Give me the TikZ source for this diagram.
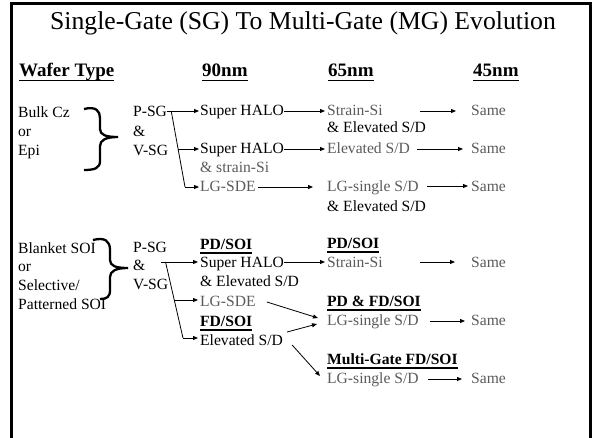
\documentclass[tikz,border=0pt]{standalone}
\usepackage{fontspec}
\setmainfont{Liberation Serif}
\usetikzlibrary{arrows.meta,calc}
\definecolor{gtxt}{RGB}{90,90,90}
\newsavebox\ulbox
\newcommand\ulx[3]{\sbox\ulbox{#3}\rlap{\rule[-#1]{\wd\ulbox}{#2}}\usebox\ulbox}
\begin{document}
\begin{tikzpicture}[x=1pt,y=-1pt,
 txt/.style={anchor=base west,inner sep=0pt,font=\fontsize{15.6}{18}\selectfont},
 gt/.style={txt,text=gtxt},
 bt/.style={anchor=base west,inner sep=0pt,font=\fontsize{15.6}{18}\bfseries\selectfont},
 hdr/.style={anchor=base west,inner sep=0pt,font=\fontsize{19}{22}\bfseries\selectfont},
 arr/.style={line width=0.8pt,-{Triangle[length=5pt,width=4pt]}},
 ln/.style={line width=0.8pt},
 brace/.style={line width=2.3pt}]
\useasboundingbox (0,0) rectangle (595,438);
\draw[line width=3pt] (11,438) -- (11,3.5) -- (590,3.5) -- (590,438);
\node[anchor=base,inner sep=0pt,font=\fontsize{25.7}{30}\selectfont] (title) at (303,30) {Single-Gate (SG) To Multi-Gate (MG) Evolution};
\node[hdr] (hw) at (19,77) {\ulx{4.5pt}{1.5pt}{Wafer Type}};
\node[hdr] (h90) at (202,77) {\ulx{4.5pt}{1.5pt}{90nm}};
\node[hdr] (h65) at (328,77) {\ulx{4.5pt}{1.5pt}{65nm}};
\node[hdr] (h45) at (473,77) {\ulx{4.5pt}{1.5pt}{45nm}};
% group 1
\node[txt] (bulk) at (18,118) {Bulk Cz};
\node[txt] (or1) at (18,137) {or};
\node[txt] (epi) at (18,156) {Epi};
\node[txt] (psg1) at (133,117) {P-SG};
\node[txt] (amp1) at (133,137) {\&};
\node[txt] (vsg1) at (133,156) {V-SG};
\node[txt] (sh1) at (200,116) {Super HALO};
\node[txt] (sh2) at (200,154) {Super HALO};
\node[gt] (ssi) at (200,173) {\& strain-Si};
\node[gt] (lgsde1) at (200,192) {LG-SDE};
\node[gt] (strain1) at (327,116) {Strain-Si};
\node[txt] (elev1) at (327,133) {\& Elevated S/D};
\node[gt] (elev2) at (327,154) {Elevated S/D};
\node[gt] (lgs1) at (327,192) {LG-single S/D};
\node[txt] (elev3) at (327,212) {\& Elevated S/D};
\node[gt] (same1) at (471,116) {Same};
\node[gt] (same2) at (471,154) {Same};
\node[gt] (same3) at (471,192) {Same};
% group 2
\node[txt] (blanket) at (18,254) {Blanket SOI};
\node[txt] (or2) at (18,272) {or};
\node[txt] (sel) at (18,291) {Selective/};
\node[txt] (pat) at (18,310) {Patterned SOI};
\node[txt] (psg2) at (133,253) {P-SG};
\node[txt] (amp2) at (133,271) {\&};
\node[txt] (vsg2) at (133,290) {V-SG};
\node[bt] (pd1) at (200,250) {\ulx{3.6pt}{1.3pt}{PD/SOI}};
\node[txt] (sh3) at (200,268) {Super HALO};
\node[txt] (elev4) at (200,287) {\& Elevated S/D};
\node[gt] (lgsde2) at (200,307) {LG-SDE};
\node[bt] (fd) at (200,327) {\ulx{3.6pt}{1.3pt}{FD/SOI}};
\node[txt] (elev5) at (200,346) {Elevated S/D};
\node[bt] (pd2) at (327,249) {\ulx{3.6pt}{1.3pt}{PD/SOI}};
\node[gt] (strain2) at (327,268) {Strain-Si};
\node[bt] (pdfd) at (327,307) {\ulx{3.6pt}{1.3pt}{PD \& FD/SOI}};
\node[gt] (lgs2) at (327,326) {LG-single S/D};
\node[bt] (mg) at (327,365) {\ulx{3.6pt}{1.3pt}{Multi-Gate FD/SOI}};
\node[gt] (lgs3) at (327,384) {LG-single S/D};
\node[gt] (same4) at (471,268) {Same};
\node[gt] (same5) at (471,326) {Same};
\node[gt] (same6) at (471,384) {Same};
% braces
\draw[brace] (84,109) .. controls (96,106) and (100,111) .. (100,118) -- (100,129) .. controls (100,135) and (106,137) .. (118,137) .. controls (106,137) and (100,140) .. (100,146) -- (100,161) .. controls (100,168) and (95,170) .. (84,170);
\draw[brace] (93,240) .. controls (105,237) and (110,241) .. (110,250) -- (110,260) .. controls (110,266) and (116,268) .. (128,268) .. controls (116,268) and (110,271) .. (110,277) -- (110,290) .. controls (110,297) and (107,299) .. (100,299);
% group 1 connectors
\coordinate (d1a) at ([xshift=4pt,yshift=6pt]psg1.base east);
\coordinate (d1b) at ([xshift=-15pt,yshift=5pt]lgsde1.base west);
\draw[arr] ([yshift=6pt]psg1.base east) -- ([xshift=-1pt,yshift=5pt]sh1.base west);
\draw[ln] (d1a) -- (d1b);
\draw[arr] (d1b) -- ([xshift=-1pt,yshift=5pt]lgsde1.base west);
\draw[arr] ($(d1a)!0.5!(d1b)$) -- ([xshift=-1pt,yshift=5pt]sh2.base west);
\draw[arr] ([yshift=5pt]sh1.base east) -- ([xshift=-2pt,yshift=5pt]strain1.base west);
\draw[arr] ([xshift=37pt,yshift=5pt]strain1.base east) -- ([xshift=-15pt,yshift=5pt]same1.base west);
\draw[arr] ([yshift=5pt]sh2.base east) -- ([xshift=-2pt,yshift=5pt]elev2.base west);
\draw[arr] ([xshift=7pt,yshift=5pt]elev2.base east) -- ([xshift=-8pt,yshift=5pt]same2.base west);
\draw[arr] ([xshift=2pt,yshift=5pt]lgsde1.base east) -- ([xshift=-14pt,yshift=5pt]lgs1.base west);
\draw[arr] ([xshift=8pt,yshift=6pt]lgs1.base east) -- ([xshift=-3pt,yshift=6pt]same3.base west);
% group 2 connectors
\coordinate (d2a) at ([xshift=20pt,yshift=9pt]amp2.base east);
\coordinate (d2b) at ([xshift=-17pt,yshift=8pt]elev5.base west);
\draw[arr] ([xshift=15pt,yshift=9pt]amp2.base east) -- ([xshift=-2pt,yshift=6pt]sh3.base west);
\draw[ln] (d2a) -- (d2b);
\draw[arr] ($(d2a)!0.5!(d2b)$) -- ([xshift=-2pt,yshift=7pt]lgsde2.base west);
\draw[arr] (d2b) -- ([xshift=-2pt,yshift=8pt]elev5.base west);
\draw[arr] ([yshift=6pt]sh3.base east) -- ([xshift=-2pt,yshift=6pt]strain2.base west);
\draw[arr] ([xshift=37pt,yshift=6pt]strain2.base east) -- ([xshift=-16pt,yshift=6pt]same4.base west);
\draw[arr] ([xshift=11pt,yshift=5pt]lgsde2.base east) -- ([xshift=-9pt,yshift=8pt]lgs2.base west);
\draw[arr] ([xshift=4pt,yshift=14pt]elev5.base east) -- ([xshift=-10pt,yshift=2pt]lgs2.base west);
\draw[arr] ([xshift=9pt,yshift=1pt]elev5.base east) -- ([xshift=-7pt,yshift=8pt]lgs3.base west);
\draw[arr] ([xshift=11pt,yshift=5pt]lgs2.base east) -- ([xshift=-6pt,yshift=5pt]same5.base west);
\draw[arr] ([xshift=9pt,yshift=5pt]lgs3.base east) -- ([xshift=-9pt,yshift=5pt]same6.base west);
\end{tikzpicture}
\end{document}
